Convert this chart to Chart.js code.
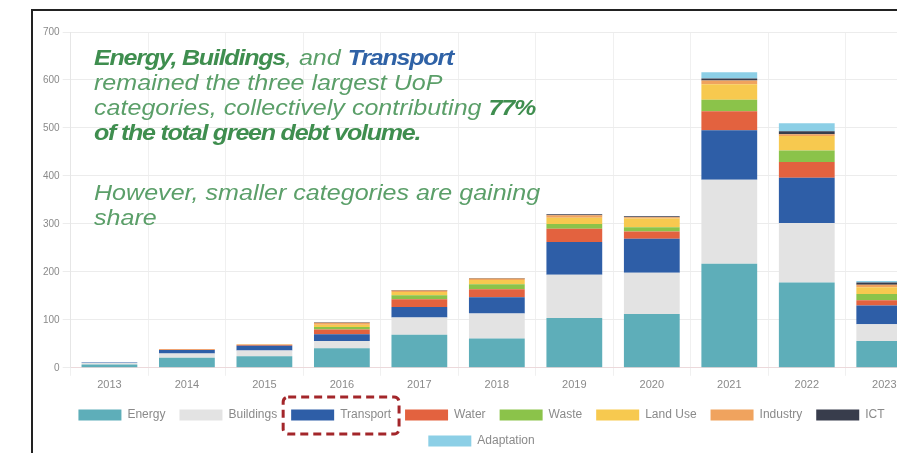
<!DOCTYPE html>
<html>
<head>
<meta charset="utf-8">
<script src="https://cdn.jsdelivr.net/npm/chart.js@4/dist/chart.umd.min.js"></script>
<style>
  html, body { margin: 0; padding: 0; background: #fff; overflow: hidden; width: 897px; height: 453px; }
  #frame { position: absolute; left: 31px; top: 9px; width: 900px; height: 460px;
           border-left: 2px solid #222; border-top: 2px solid #222; }
  #chartCanvas { position: absolute; left: 0; top: 0; }
  .note { position: absolute; left: 61px; font-family: "Liberation Sans", Arial, sans-serif;
          font-size: 22px; line-height: 25px; font-style: italic; color: #5b9f69;
          transform: scaleX(1.14); transform-origin: left top; white-space: nowrap; }
  .note b { color: #3f8e4f; letter-spacing: -1.1px; }
  .note b.blue { color: #2f62a6; }
</style>
</head>
<body>
<div id="frame">
  <canvas id="chartCanvas" width="890" height="446"></canvas>
  <div class="note" style="top: 34px;">
    <b>Energy, Buildings</b>, and <b class="blue">Transport</b><br>
    remained the three largest UoP<br>
    categories, collectively contributing <b>77%</b><br>
    <b>of the total green debt volume.</b>
  </div>
  <div class="note" style="top: 169px;">
    However, smaller categories are gaining<br>
    share
  </div>
</div>
<script>
// green debt volume by use-of-proceeds category, per year
const years = ['2013', '2014', '2015', '2016', '2017', '2018', '2019', '2020', '2021', '2022', '2023'];
const energy     = [7, 21, 24, 41, 69, 61, 104, 112, 217, 178, 56];
const buildings  = [3, 9, 12, 15, 36, 52, 90, 86, 175, 124, 35];
const transport  = [1, 7, 10, 14, 22, 34, 68, 71, 103, 94, 39];
const water      = [0, 1, 2, 10, 16, 17, 28, 15, 40, 33, 11];
const waste      = [0, 0, 0, 5, 8, 10, 10, 9, 24, 24, 13];
const landUse    = [0, 1, 1, 5, 7, 9, 13, 18, 32, 30, 14];
const industry   = [0, 0, 0, 4, 3, 3, 5, 3, 8, 4, 5];
const ict        = [0, 0, 0, 1, 1, 1, 2, 2, 4, 6, 5];
const adaptation = [0, 0, 0, 0, 0, 0, 0, 0, 13, 17, 3];
const yTicks = [0, 100, 200, 300, 400, 500, 600, 700];

const series = [
    ['Energy', energy, '#5eaeb9'],
    ['Buildings', buildings, '#e3e3e3'],
    ['Transport', transport, '#2e5ea7'],
    ['Water', water, '#e3623f'],
    ['Waste', waste, '#8bc34a'],
    ['Land Use', landUse, '#f7c94f'],
    ['Industry', industry, '#f0a35e'],
    ['ICT', ict, '#383d4c'],
    ['Adaptation', adaptation, '#8ccfe6']
];

// dashed box around the Transport legend entry
const legendHighlight = {
    id: 'legendHighlight',
    afterDraw(chart) {
        let hb = chart.legend.legendHitBoxes[2];
        if (!hb) return;
        let ctx = chart.ctx;
        ctx.save();
        ctx.strokeStyle = '#a3262a';
        ctx.lineWidth = 3;
        ctx.setLineDash([8, 5]);
        ctx.beginPath();
        ctx.roundRect(hb.left - 8, hb.top + hb.height / 2 - 18, hb.width + 16, 37, 5);
        ctx.stroke();
        ctx.restore();
    }
};

let ctx = document.getElementById('chartCanvas').getContext('2d');
let chart = new Chart(ctx, {
    type: 'bar',
    data: {
        labels: years,
        datasets: series.map(s => ({
            label: s[0],
            data: s[1],
            backgroundColor: s[2],
            borderWidth: 0
        }))
    },
    options: {
        responsive: false,
        animation: false,
        layout: { padding: { left: 7, top: 21, right: 0, bottom: 0 } },
        plugins: {
            tooltip: { enabled: false },
            legend: {
                position: 'bottom',
                labels: {
                    boxWidth: 43,
                    boxHeight: 11,
                    padding: 14,
                    color: '#8a8a8a',
                    font: { family: 'Liberation Sans', size: 12 }
                }
            }
        },
        scales: {
            x: {
                stacked: true,
                grid: { color: '#f0f0f0' },
                border: { color: '#ecd9db' },
                ticks: { color: '#8a8a8a', font: { family: 'Liberation Sans', size: 11 } }
            },
            y: {
                stacked: true,
                min: 0,
                max: 700,
                afterBuildTicks: axis => { axis.ticks = yTicks.map(v => ({ value: v })); },
                grid: { color: '#ececec' },
                border: { color: '#e6e6e6' },
                ticks: { color: '#8a8a8a', font: { family: 'Liberation Sans', size: 10 } }
            }
        }
    },
    plugins: [legendHighlight]
});
</script>
</body>
</html>
